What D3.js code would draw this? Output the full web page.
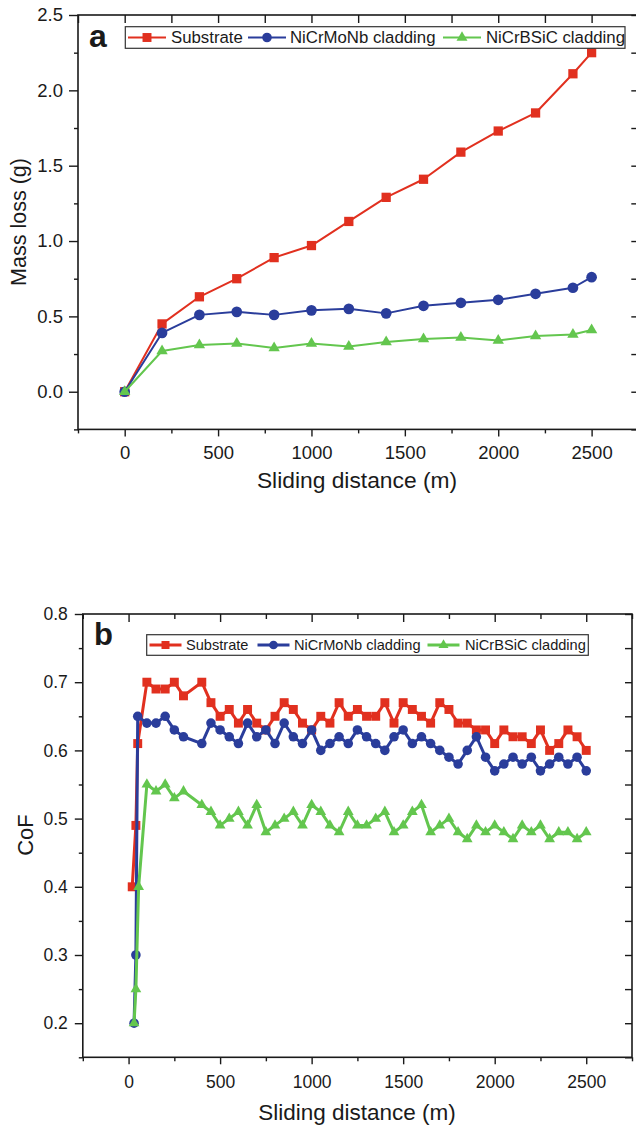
<!DOCTYPE html>
<html><head><meta charset="utf-8">
<script src="https://cdn.jsdelivr.net/npm/d3@7"></script>
<style>body{margin:0;background:#fff}svg{display:block}text{font-family:"Liberation Sans",Arial,Helvetica,sans-serif;fill:#1a1a1a}</style>
</head><body><svg id="c" width="636" height="1130"></svg>
<script>
// ---------- data ----------
const seriesNames = ["Substrate", "NiCrMoNb cladding", "NiCrBSiC cladding"];
const seriesColors = ["#e1301f", "#2a3d9b", "#63c64e"];
const seriesSymbols = ["square", "circle", "triangle"];

// Panel a: mass loss (g) vs sliding distance (m)
const distA = [0, 200, 400, 600, 800, 1000, 1200, 1400, 1600, 1800, 2000, 2200, 2400, 2500];
const massSubstrate = [0, 0.45, 0.63, 0.75, 0.89, 0.97, 1.13, 1.29, 1.41, 1.59, 1.73, 1.85, 2.11, 2.25];
const massNiCrMoNb  = [0, 0.39, 0.51, 0.53, 0.51, 0.54, 0.55, 0.52, 0.57, 0.59, 0.61, 0.65, 0.69, 0.76];
const massNiCrBSiC  = [0, 0.27, 0.31, 0.32, 0.29, 0.32, 0.30, 0.33, 0.35, 0.36, 0.34, 0.37, 0.38, 0.41];
const xTicksA = [0, 500, 1000, 1500, 2000, 2500];
const yTicksA = [0, 0.5, 1.0, 1.5, 2.0, 2.5];

// Panel b: coefficient of friction vs sliding distance (m)
const distBCommon = [100, 150, 200, 250, 300, 400, 450, 500, 550, 600, 650, 700, 750, 800, 850, 900, 950,
  1000, 1050, 1100, 1150, 1200, 1250, 1300, 1350, 1400, 1450, 1500, 1550, 1600, 1650, 1700, 1750, 1800,
  1850, 1900, 1950, 2000, 2050, 2100, 2150, 2200, 2250, 2300, 2350, 2400, 2450, 2500];
const distBSubstrateStart = [20, 40, 50];
const distBNiCrMoNbStart  = [30, 40, 50];
const distBNiCrBSiCStart  = [30, 40, 55];
const cofSubstrate = [0.40, 0.49, 0.61,
  0.70, 0.69, 0.69, 0.70, 0.68, 0.70, 0.67, 0.65, 0.66, 0.64, 0.66, 0.64, 0.63, 0.65, 0.67, 0.66, 0.64,
  0.63, 0.65, 0.64, 0.67, 0.65, 0.66, 0.65, 0.65, 0.67, 0.64, 0.67, 0.66, 0.65, 0.64, 0.67, 0.66, 0.64,
  0.64, 0.63, 0.63, 0.61, 0.63, 0.62, 0.62, 0.61, 0.63, 0.60, 0.61, 0.63, 0.62, 0.60];
const cofNiCrMoNb = [0.20, 0.30, 0.65,
  0.64, 0.64, 0.65, 0.63, 0.62, 0.61, 0.64, 0.63, 0.62, 0.61, 0.64, 0.62, 0.63, 0.61, 0.64, 0.62, 0.61,
  0.63, 0.60, 0.61, 0.62, 0.61, 0.63, 0.62, 0.61, 0.60, 0.62, 0.63, 0.61, 0.62, 0.61, 0.60, 0.59, 0.58,
  0.60, 0.62, 0.59, 0.57, 0.58, 0.59, 0.58, 0.59, 0.57, 0.58, 0.59, 0.58, 0.59, 0.57];
const cofNiCrBSiC = [0.20, 0.25, 0.40,
  0.55, 0.54, 0.55, 0.53, 0.54, 0.52, 0.51, 0.49, 0.50, 0.51, 0.49, 0.52, 0.48, 0.49, 0.50, 0.51, 0.49,
  0.52, 0.51, 0.49, 0.48, 0.51, 0.49, 0.49, 0.50, 0.51, 0.48, 0.49, 0.51, 0.52, 0.48, 0.49, 0.50, 0.48,
  0.47, 0.49, 0.48, 0.49, 0.48, 0.47, 0.49, 0.48, 0.49, 0.47, 0.48, 0.48, 0.47, 0.48];
const xTicksB = [0, 500, 1000, 1500, 2000, 2500];
const yTicksB = [0.2, 0.3, 0.4, 0.5, 0.6, 0.7, 0.8];

// ---------- drawing ----------
const svg = d3.select("#c");
const symType = {square: d3.symbolSquare, circle: d3.symbolCircle, triangle: d3.symbolTriangle};

function frame(g, x, y, o) {
  const [x0, x1] = x.range(), [y0, y1] = y.range(); // y0 bottom, y1 top
  const xMinor = o.xMinor, yMinor = o.yMinor;
  const style = sel => { sel.select(".domain").remove(); sel.selectAll("line").attr("stroke", "#1a1a1a").attr("stroke-width", 1.4); };
  // left
  g.append("g").attr("transform", `translate(${x0},0)`)
    .call(d3.axisLeft(y).tickValues(o.yTicks).tickSize(o.tickL).tickPadding(o.padL).tickFormat(d3.format(o.yFmt)))
    .call(style).call(s => s.selectAll("text").attr("font-size", o.tickFont).style("font-family", "Liberation Sans, Arial"));
  g.append("g").attr("transform", `translate(${x0},0)`)
    .call(d3.axisLeft(y).tickValues(yMinor).tickSize(4).tickFormat("")).call(style);
  // bottom
  g.append("g").attr("transform", `translate(0,${y0})`)
    .call(d3.axisBottom(x).tickValues(o.xTicks).tickSize(7).tickPadding(o.padB).tickFormat(d3.format("d")))
    .call(style).call(s => s.selectAll("text").attr("font-size", o.tickFont).style("font-family", "Liberation Sans, Arial"));
  g.append("g").attr("transform", `translate(0,${y0})`)
    .call(d3.axisBottom(x).tickValues(xMinor).tickSize(4).tickFormat("")).call(style);
  // top (ticks inward)
  g.append("g").attr("transform", `translate(0,${y1})`)
    .call(d3.axisBottom(x).tickValues(o.xTicks).tickSize(8).tickFormat("")).call(style);
  g.append("g").attr("transform", `translate(0,${y1})`)
    .call(d3.axisBottom(x).tickValues(xMinor).tickSize(o.topMinor).tickFormat("")).call(style);
  // right (ticks inward)
  g.append("g").attr("transform", `translate(${x1},0)`)
    .call(d3.axisLeft(y).tickValues(o.yTicks.concat(yMinor)).tickSize(7).tickFormat("")).call(style);
  // box
  g.append("rect").attr("x", x0).attr("y", y1).attr("width", x1 - x0).attr("height", y0 - y1)
    .attr("fill", "none").attr("stroke", "#1a1a1a").attr("stroke-width", 1.6);
}

function seriesDraw(g, x, y, data, o) {
  data.forEach((s, i) => {
    const pts = s.xs.map((d, j) => [d, s.ys[j]]);
    g.append("path").datum(pts)
      .attr("fill", "none").attr("stroke", seriesColors[i]).attr("stroke-width", o.lw).attr("stroke-linejoin", "round")
      .attr("d", d3.line().x(d => x(d[0])).y(d => y(d[1])));
    g.selectAll(null).data(pts).enter().append("path")
      .attr("transform", d => `translate(${x(d[0])},${y(d[1])})`)
      .attr("d", d3.symbol().type(symType[seriesSymbols[i]]).size(o.sizes[i]))
      .attr("fill", seriesColors[i]);
  });
}

function legend(g, o) {
  g.append("rect").attr("x", o.x).attr("y", o.y).attr("width", o.w).attr("height", o.h)
    .attr("fill", "#fff").attr("stroke", "#333").attr("stroke-width", 1.2);
  o.items.forEach((it, i) => {
    const cy = o.y + o.h / 2;
    g.append("line").attr("x1", it.lx).attr("x2", it.lx + o.lineLen).attr("y1", cy).attr("y2", cy)
      .attr("stroke", seriesColors[i]).attr("stroke-width", o.lw);
    g.append("path").attr("transform", `translate(${it.lx + o.lineLen / 2},${cy})`)
      .attr("d", d3.symbol().type(symType[seriesSymbols[i]]).size(o.sizes[i])).attr("fill", seriesColors[i]);
    g.append("text").attr("x", it.tx).attr("y", o.base).attr("font-size", o.font).text(seriesNames[i]);
  });
}

// ---- Panel a ----
const xA = d3.scaleLinear().domain([-250, 2750]).range([78, 638.3]);
const yA = d3.scaleLinear().domain([-0.25, 2.5]).range([429.4, 15]);
const gA = svg.append("g");
seriesDraw(gA, xA, yA, [
  {xs: distA, ys: massSubstrate},
  {xs: distA, ys: massNiCrMoNb},
  {xs: distA, ys: massNiCrBSiC}
], {lw: 2, sizes: [86, 90, 56]});
frame(gA, xA, yA, {
  xTicks: xTicksA, yTicks: yTicksA, yFmt: ".1f",
  xMinor: [-250, 250, 750, 1250, 1750, 2250, 2750],
  yMinor: [-0.25, 0.25, 0.75, 1.25, 1.75, 2.25],
  tickL: 9, padL: 6, padB: 9, tickFont: 18.5, topMinor: 8
});
gA.append("text").attr("x", 357).attr("y", 488).attr("text-anchor", "middle").attr("font-size", 22.8).text("Sliding distance (m)");
gA.append("text").attr("transform", "translate(26,222) rotate(-90)").attr("text-anchor", "middle").attr("font-size", 21.5).text("Mass loss (g)");
gA.append("text").attr("x", 89).attr("y", 46.5).attr("font-size", 32).attr("font-weight", "bold").text("a");
legend(gA, {x: 125.3, y: 26.7, w: 499.7, h: 21.6, base: 43.4, font: 16.8, lineLen: 38, lw: 2, sizes: [80, 72, 52],
  items: [{lx: 128, tx: 171}, {lx: 248, tx: 290}, {lx: 443, tx: 486}]});

// ---- Panel b ----
const xB = d3.scaleLinear().domain([-250, 2750]).range([82.8, 632]);
const yB = d3.scaleLinear().domain([0.15, 0.8]).range([1057.3, 614]);
const gB = svg.append("g");
seriesDraw(gB, xB, yB, [
  {xs: distBSubstrateStart.concat(distBCommon), ys: cofSubstrate},
  {xs: distBNiCrMoNbStart.concat(distBCommon), ys: cofNiCrMoNb},
  {xs: distBNiCrBSiCStart.concat(distBCommon), ys: cofNiCrBSiC}
], {lw: 3, sizes: [80, 72, 50]});
frame(gB, xB, yB, {
  xTicks: xTicksB, yTicks: yTicksB, yFmt: ".1f",
  xMinor: [-250, 250, 750, 1250, 1750, 2250, 2750],
  yMinor: [0.15, 0.25, 0.35, 0.45, 0.55, 0.65, 0.75],
  tickL: 8, padL: 7, padB: 11, tickFont: 17.5, topMinor: 5
});
gB.append("text").attr("x", 357).attr("y", 1120).attr("text-anchor", "middle").attr("font-size", 22.5).text("Sliding distance (m)");
gB.append("text").attr("transform", "translate(33,835) rotate(-90)").attr("text-anchor", "middle").attr("font-size", 22).text("CoF");
gB.append("text").attr("x", 94).attr("y", 645).attr("font-size", 31).attr("font-weight", "bold").text("b");
legend(gB, {x: 146.7, y: 634.7, w: 441.6, h: 20.6, base: 650.3, font: 14.6, lineLen: 32, lw: 3, sizes: [64, 60, 44],
  items: [{lx: 149.5, tx: 186}, {lx: 257.5, tx: 294}, {lx: 427.5, tx: 465}]});
</script></body></html>
